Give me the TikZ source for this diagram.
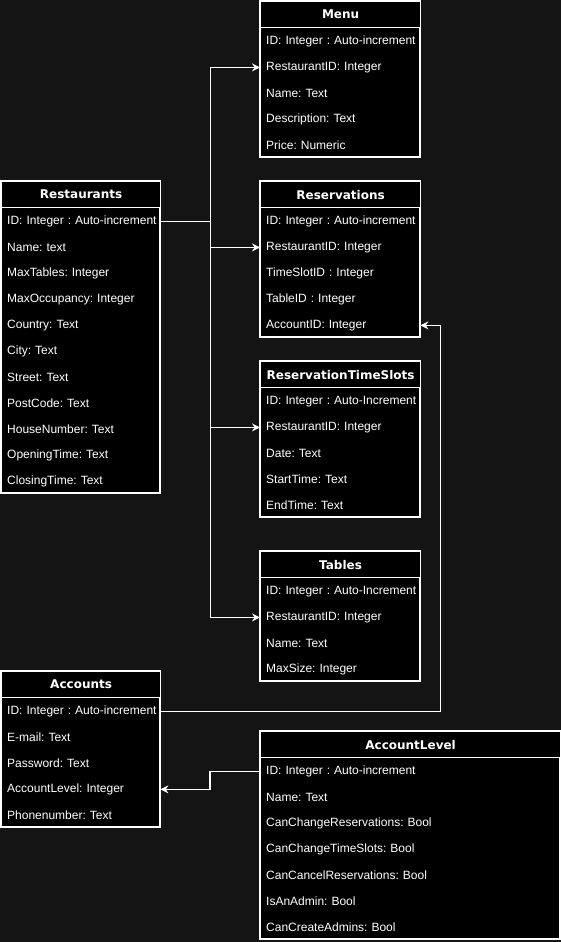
\documentclass[tikz,border=0pt]{standalone}
\usepackage{fontspec}
\usepackage{xcolor}
\usepackage{tikz}
\usetikzlibrary{arrows.meta}
\setmainfont{Liberation Sans}
\newfontfamily\headfont{DejaVu Sans}
\frenchspacing

\definecolor{bgdark}{RGB}{20,20,20}

\tikzset{
  erline/.style={draw=white,line width=1.2pt},
  erhead/.style={erline,fill=black,text=white,minimum height=26pt,inner sep=0pt,
    font=\headfont\bfseries\fontsize{12}{14}\selectfont},
  errow/.style={text=white,minimum height=26pt,inner xsep=6pt,inner ysep=0pt,align=left,
    font=\fontsize{12}{14}\selectfont},
  conn/.style={draw=white,line width=1.2pt,-{Stealth[length=8pt,width=8pt]}},
}

% #1 name, #2 x, #3 y, #4 width, #5 rows, #6 title, #7 fields
\newcommand{\ertable}[7]{%
  \draw[erline,fill=black] (#2,#3) rectangle ++(#4,{26+26*#5});
  \node[erhead,minimum width=#4pt,anchor=north west] (#1) at (#2,#3) {#6};
  \pgfmathsetmacro\ertw{#4-12}
  \foreach \f [count=\i] in {#7}
    \node[errow,text width=\ertw pt,anchor=north west,yshift={-(\i-1)*26pt}] (#1-\i) at (#1.south west) {\mbox{\f}};
}

\begin{document}
\begin{tikzpicture}[x=1pt,y=-1pt]
    \fill[bgdark] (0,0) rectangle (561,942);
    \useasboundingbox (0,0) rectangle (561,942);

    \ertable{menu}{260}{1}{160}{5}{Menu}{ID: Integer : Auto-increment,RestaurantID: Integer,Name: Text,Description: Text,Price: Numeric}
    \ertable{rest}{1}{181}{159}{11}{Restaurants}{ID: Integer : Auto-increment,Name: text,MaxTables: Integer,MaxOccupancy: Integer,Country: Text,City: Text,Street: Text,PostCode: Text,HouseNumber: Text,OpeningTime: Text,ClosingTime: Text}
    \ertable{resv}{260}{181}{160}{5}{Reservations}{ID: Integer : Auto-increment,RestaurantID: Integer,TimeSlotID : Integer,TableID : Integer,AccountID: Integer}
    \ertable{slot}{260}{361}{160}{5}{ReservationTimeSlots}{ID: Integer : Auto-Increment,RestaurantID: Integer,Date: Text,StartTime: Text,EndTime: Text}
    \ertable{tabl}{260}{551}{160}{4}{Tables}{ID: Integer : Auto-Increment,RestaurantID: Integer,Name: Text,MaxSize: Integer}
    \ertable{acct}{1}{671}{159}{5}{Accounts}{ID: Integer : Auto-increment,E-mail: Text,Password: Text,AccountLevel: Integer,Phonenumber: Text}
    \ertable{alvl}{260}{731}{300}{7}{AccountLevel}{ID: Integer : Auto-increment,Name: Text,CanChangeReservations: Bool,CanChangeTimeSlots: Bool,CanCancelReservations: Bool,IsAnAdmin: Bool,CanCreateAdmins: Bool}

    % restaurant id to the other tables
    \draw[conn] (rest-1.east) -- ++(50,0) |- (menu-2.west);
    \draw[conn] (rest-1.east) -- ++(50,0) |- (resv-2.west);
    \draw[conn] (rest-1.east) -- ++(50,0) |- (slot-2.west);
    \draw[conn] (rest-1.east) -- ++(50,0) |- (tabl-2.west);

    % accounts
    \draw[conn] (acct-1.east) -- ++(280,0) |- (resv-5.east);
    \draw[conn] (alvl-1.west) -- ++(-50,0) |- (acct-4.east);
\end{tikzpicture}
\end{document}
